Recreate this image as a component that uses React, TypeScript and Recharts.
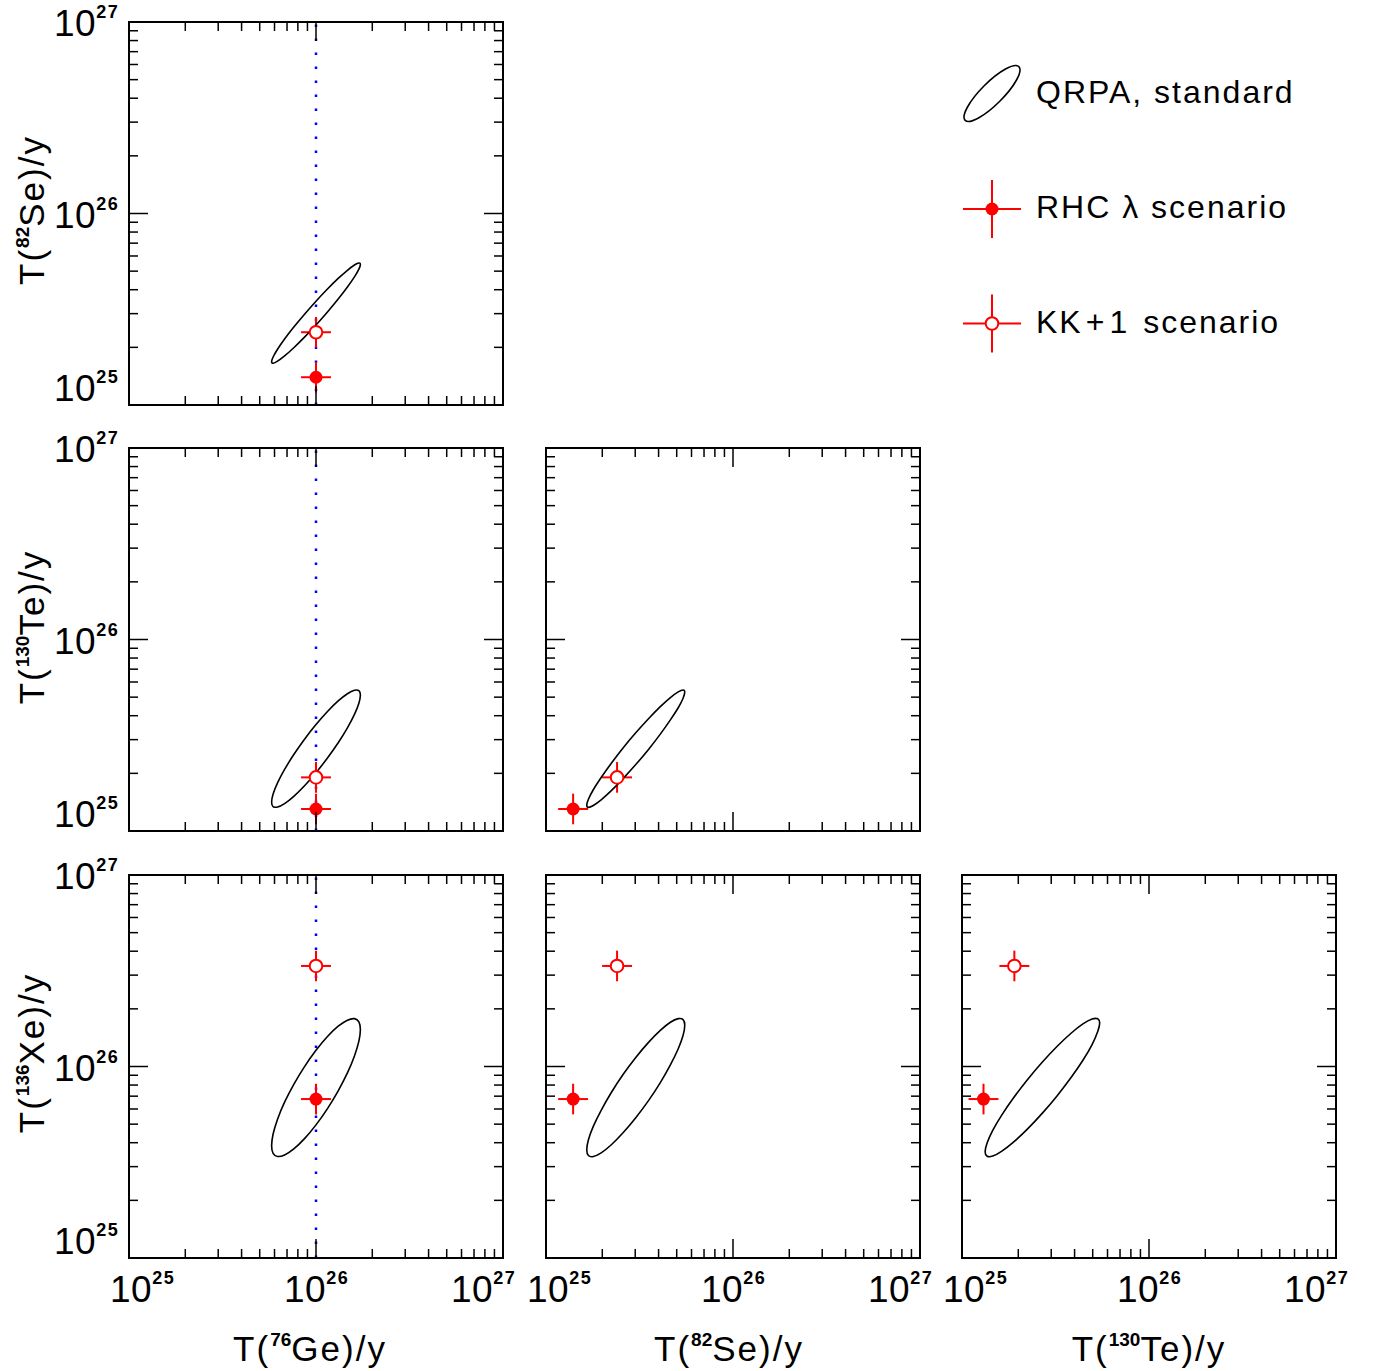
import React from "react";
import {
  ScatterChart,
  Scatter,
  XAxis,
  YAxis,
  ErrorBar,
  ReferenceArea,
  ReferenceLine,
} from "recharts";

// all values are log10(T / y)
const isotopeMass = ["76", "82", "130", "136"];
const isotopeName = ["Ge", "Se", "Te", "Xe"];
const rhcLog = [26.0, 25.145, 25.115, 25.83];
const kkLog = [26.0, 25.38, 25.28, 26.525];
const errLog = [0.08, 0.08, 0.08, 0.08];

const decades = [25, 26, 27];
const multipliers = [1, 2, 3, 4, 5, 6, 7, 8, 9];

// QRPA ellipses, [x, y] in log10 units
const ellipseGeSe = [
  [26.24, 25.737], [26.232, 25.745], [26.208, 25.734], [26.17, 25.706], [26.12, 25.663], [26.062, 25.607],
  [26.0, 25.543], [25.938, 25.474], [25.88, 25.406], [25.83, 25.343], [25.792, 25.289], [25.768, 25.248],
  [25.76, 25.223], [25.768, 25.215], [25.792, 25.226], [25.83, 25.254], [25.88, 25.297], [25.938, 25.353],
  [26.0, 25.417], [26.062, 25.486], [26.12, 25.554], [26.17, 25.618], [26.208, 25.671], [26.232, 25.712],
];
const ellipseGeTe = [
  [26.24, 25.713], [26.232, 25.736], [26.208, 25.738], [26.17, 25.72], [26.12, 25.682], [26.062, 25.626],
  [26.0, 25.557], [25.938, 25.48], [25.88, 25.399], [25.83, 25.32], [25.792, 25.249], [25.768, 25.19],
  [25.76, 25.147], [25.768, 25.124], [25.792, 25.122], [25.83, 25.14], [25.88, 25.178], [25.938, 25.234],
  [26.0, 25.303], [26.062, 25.381], [26.12, 25.461], [26.17, 25.54], [26.208, 25.611], [26.232, 25.67],
];
const ellipseSeTe = [
  [25.745, 25.729], [25.736, 25.74], [25.71, 25.73], [25.667, 25.7], [25.613, 25.652], [25.549, 25.588],
  [25.48, 25.514], [25.411, 25.434], [25.348, 25.353], [25.293, 25.278], [25.25, 25.213], [25.224, 25.163],
  [25.215, 25.131], [25.224, 25.12], [25.25, 25.13], [25.293, 25.16], [25.348, 25.208], [25.411, 25.272],
  [25.48, 25.346], [25.549, 25.426], [25.613, 25.507], [25.667, 25.582], [25.71, 25.646], [25.736, 25.696],
];
const ellipseGeXe = [
  [26.24, 26.197], [26.232, 26.237], [26.208, 26.254], [26.17, 26.246], [26.12, 26.214], [26.062, 26.16],
  [26.0, 26.087], [25.938, 26.001], [25.88, 25.907], [25.83, 25.813], [25.792, 25.723], [25.768, 25.645],
  [25.76, 25.583], [25.768, 25.543], [25.792, 25.526], [25.83, 25.534], [25.88, 25.566], [25.938, 25.62],
  [26.0, 25.693], [26.062, 25.779], [26.12, 25.873], [26.17, 25.967], [26.208, 26.057], [26.232, 26.135],
];
const ellipseSeXe = [
  [25.745, 26.219], [25.736, 26.249], [25.71, 26.254], [25.667, 26.235], [25.613, 26.192], [25.549, 26.129],
  [25.48, 26.049], [25.411, 25.959], [25.348, 25.864], [25.293, 25.77], [25.25, 25.685], [25.224, 25.614],
  [25.215, 25.562], [25.224, 25.531], [25.25, 25.526], [25.293, 25.545], [25.348, 25.588], [25.411, 25.651],
  [25.48, 25.731], [25.549, 25.821], [25.613, 25.916], [25.667, 26.01], [25.71, 26.095], [25.736, 26.166],
];
const ellipseTeXe = [
  [25.74, 26.23], [25.729, 26.253], [25.699, 26.252], [25.649, 26.226], [25.585, 26.177], [25.51, 26.108],
  [25.43, 26.025], [25.35, 25.933], [25.275, 25.837], [25.211, 25.746], [25.161, 25.664], [25.131, 25.597],
  [25.12, 25.551], [25.131, 25.527], [25.161, 25.528], [25.211, 25.555], [25.275, 25.603], [25.35, 25.672],
  [25.43, 25.755], [25.51, 25.847], [25.585, 25.943], [25.649, 26.034], [25.699, 26.116], [25.729, 26.187],
];

const panels = [
  { row: 0, col: 0, xi: 0, yi: 1, ellipse: ellipseGeSe },
  { row: 1, col: 0, xi: 0, yi: 2, ellipse: ellipseGeTe },
  { row: 1, col: 1, xi: 1, yi: 2, ellipse: ellipseSeTe },
  { row: 2, col: 0, xi: 0, yi: 3, ellipse: ellipseGeXe },
  { row: 2, col: 1, xi: 1, yi: 3, ellipse: ellipseSeXe },
  { row: 2, col: 2, xi: 2, yi: 3, ellipse: ellipseTeXe },
];

const ticks = decades.flatMap((d, i) =>
  i === decades.length - 1 ? [d] : multipliers.map((m) => d + Math.log10(m))
);

// layout
const PLOT_LEFT = [129, 546, 962];
const PLOT_TOP = [22, 448, 875];
const PLOT_W = 374;
const PLOT_H = 383;
const AX = 20;
const MAJOR_LEN = 19;
const MINOR_LEN = 9;
const X_LABEL_SHIFT = [-19, -32, -52];
const Y_TITLE_CY = [210, 627, 1053];
const X_TITLE_CX = [310, 729, 1149];
const FONT = "'Liberation Sans', Arial, Helvetica, sans-serif";
const RED = "#ff0000";

const isMajor = (v: number) => Math.abs(v - Math.round(v)) < 1e-6;

function Power({ exp }: { exp: number }) {
  return (
    <>
      10
      <tspan dy={-18} fontSize={18} fontWeight="bold" letterSpacing={1.5}>
        {exp}
      </tspan>
    </>
  );
}

function Title({ i }: { i: number }) {
  return (
    <>
      T(
      <tspan dy={-15} fontSize={19} fontWeight="bold" letterSpacing={0}>
        {isotopeMass[i]}
      </tspan>
      <tspan dy={15}>{isotopeName[i]})/y</tspan>
    </>
  );
}

function XTick(props: any) {
  const { x, y, payload, top, showLabel } = props;
  const v = payload.value;
  const major = isMajor(v);
  const len = major ? MAJOR_LEN : MINOR_LEN;
  const exp = Math.round(v);
  return (
    <g>
      <line x1={x} x2={x} y1={y} y2={y - len} stroke="#000" strokeWidth={1.5} />
      <line x1={x} x2={x} y1={top} y2={top + len} stroke="#000" strokeWidth={1.5} />
      {major && showLabel && (
        <text x={x + X_LABEL_SHIFT[exp - 25]} y={y + 44} fontSize={37} fontFamily={FONT} letterSpacing={0.5} fill="#000">
          <Power exp={exp} />
        </text>
      )}
    </g>
  );
}

function YTick(props: any) {
  const { x, y, payload, showLabel } = props;
  const v = payload.value;
  const major = isMajor(v);
  const len = major ? MAJOR_LEN : MINOR_LEN;
  const exp = Math.round(v);
  return (
    <g>
      <line x1={x} x2={x + len} y1={y} y2={y} stroke="#000" strokeWidth={1.5} />
      <line x1={x + PLOT_W} x2={x + PLOT_W - len} y1={y} y2={y} stroke="#000" strokeWidth={1.5} />
      {major && showLabel && (
        <text x={x - 75} y={exp === 25 ? y - 4 : y + 14} fontSize={37} fontFamily={FONT} letterSpacing={0.5} fill="#000">
          <Power exp={exp} />
        </text>
      )}
    </g>
  );
}

const EmptyShape = () => <g />;
const FilledDot = (p: any) => <circle cx={p.cx} cy={p.cy} r={6.5} fill={RED} />;
const OpenDot = (p: any) => <circle cx={p.cx} cy={p.cy} r={6.3} fill="#fff" stroke={RED} strokeWidth={2} />;

function Panel({ row, col, xi, yi, ellipse }: any) {
  const mL = col === 0 ? 129 : 30;
  const mT = row === 0 ? 22 : 30;
  const mR = 30;
  const mB = row === 2 ? 113 : 30;
  const chartLeft = PLOT_LEFT[col] - mL;
  const chartTop = PLOT_TOP[row] - mT;
  const showX = row === 2;
  const showY = col === 0;

  const ell = ellipse.map(([x, y]: number[]) => ({ x, y }));
  const rhc = [{ x: rhcLog[xi], y: rhcLog[yi], ex: errLog[xi], ey: errLog[yi] }];
  const kk = [{ x: kkLog[xi], y: kkLog[yi], ex: errLog[xi], ey: errLog[yi] }];

  return (
    <div style={{ position: "absolute", left: chartLeft, top: chartTop }}>
      <ScatterChart
        width={PLOT_W + mL + mR}
        height={PLOT_H + mT + mB}
        margin={{ top: mT, right: mR, bottom: mB - AX, left: mL - AX }}
      >
        <XAxis
          type="number"
          dataKey="x"
          domain={[25, 27]}
          allowDataOverflow
          ticks={ticks}
          interval={0}
          height={AX}
          tickSize={0}
          tickMargin={0}
          axisLine={false}
          tickLine={false}
          tick={(p: any) => <XTick {...p} top={mT} showLabel={showX} />}
          label={
            showX
              ? () => (
                  <text
                    x={X_TITLE_CX[col] - chartLeft}
                    y={1361 - chartTop}
                    textAnchor="middle"
                    fontSize={35}
                    fontFamily={FONT}
                    letterSpacing={2}
                    fill="#000"
                  >
                    <Title i={xi} />
                  </text>
                )
              : undefined
          }
        />
        <YAxis
          type="number"
          dataKey="y"
          domain={[25, 27]}
          allowDataOverflow
          ticks={ticks}
          interval={0}
          width={AX}
          tickSize={0}
          tickMargin={0}
          axisLine={false}
          tickLine={false}
          tick={(p: any) => <YTick {...p} showLabel={showY} />}
          label={
            showY
              ? () => {
                  const cx = 44 - chartLeft;
                  const cy = Y_TITLE_CY[row] - chartTop;
                  return (
                    <text
                      x={cx}
                      y={cy}
                      transform={`rotate(-90 ${cx} ${cy})`}
                      textAnchor="middle"
                      fontSize={35}
                      fontFamily={FONT}
                      letterSpacing={2}
                      fill="#000"
                    >
                      <Title i={yi} />
                    </text>
                  );
                }
              : undefined
          }
        />
        {col === 0 && (
          <ReferenceLine x={26} stroke="#0000ff" strokeWidth={2.5} strokeDasharray="2.5 11.5" />
        )}
        <Scatter
          data={ell}
          line={{ stroke: "#000", strokeWidth: 1.6 }}
          lineJointType="basisClosed"
          shape={EmptyShape}
          isAnimationActive={false}
        />
        <Scatter data={rhc} shape={FilledDot} isAnimationActive={false}>
          <ErrorBar dataKey="ex" direction="x" width={0} stroke={RED} strokeWidth={2} />
          <ErrorBar dataKey="ey" direction="y" width={0} stroke={RED} strokeWidth={2} />
        </Scatter>
        <Scatter data={kk} shape={OpenDot} isAnimationActive={false}>
          <ErrorBar dataKey="ex" direction="x" width={0} stroke={RED} strokeWidth={2} />
          <ErrorBar dataKey="ey" direction="y" width={0} stroke={RED} strokeWidth={2} />
        </Scatter>
        <ReferenceArea x1={25} x2={27} y1={25} y2={27} fill="none" stroke="#000" strokeWidth={2} />
      </ScatterChart>
    </div>
  );
}

function LegendBox() {
  const text = { fontSize: 32, fontFamily: FONT, letterSpacing: 2, fill: "#000" } as const;
  return (
    <svg
      width={1377}
      height={400}
      style={{ position: "absolute", left: 0, top: 0, pointerEvents: "none" }}
    >
      <ellipse cx={992} cy={93.5} rx={38} ry={11} transform="rotate(-45 992 93.5)" fill="none" stroke="#000" strokeWidth={1.6} />
      <text x={1036} y={103} {...text}>QRPA, standard</text>

      <line x1={963} x2={1021} y1={209} y2={209} stroke={RED} strokeWidth={2} />
      <line x1={992} x2={992} y1={180} y2={238} stroke={RED} strokeWidth={2} />
      <circle cx={992} cy={209} r={6.5} fill={RED} />
      <text x={1036} y={218} {...text}>RHC λ scenario</text>

      <line x1={963} x2={1021} y1={323.5} y2={323.5} stroke={RED} strokeWidth={2} />
      <line x1={992} x2={992} y1={294.5} y2={352.5} stroke={RED} strokeWidth={2} />
      <circle cx={992} cy={323.5} r={6.3} fill="#fff" stroke={RED} strokeWidth={2} />
      <text x={1036} y={333} {...text}>
        KK<tspan dx={3}>+</tspan><tspan dx={3}>1</tspan><tspan dx={14}>scenario</tspan>
      </text>
    </svg>
  );
}

export default function App() {
  return (
    <div style={{ position: "absolute", left: 0, top: 0, width: 1377, height: 1371, background: "#fff" }}>
      <style>{`.recharts-surface { overflow: visible !important; }`}</style>
      {panels.map((p) => (
        <Panel key={`${p.row}-${p.col}`} {...p} />
      ))}
      <LegendBox />
    </div>
  );
}
